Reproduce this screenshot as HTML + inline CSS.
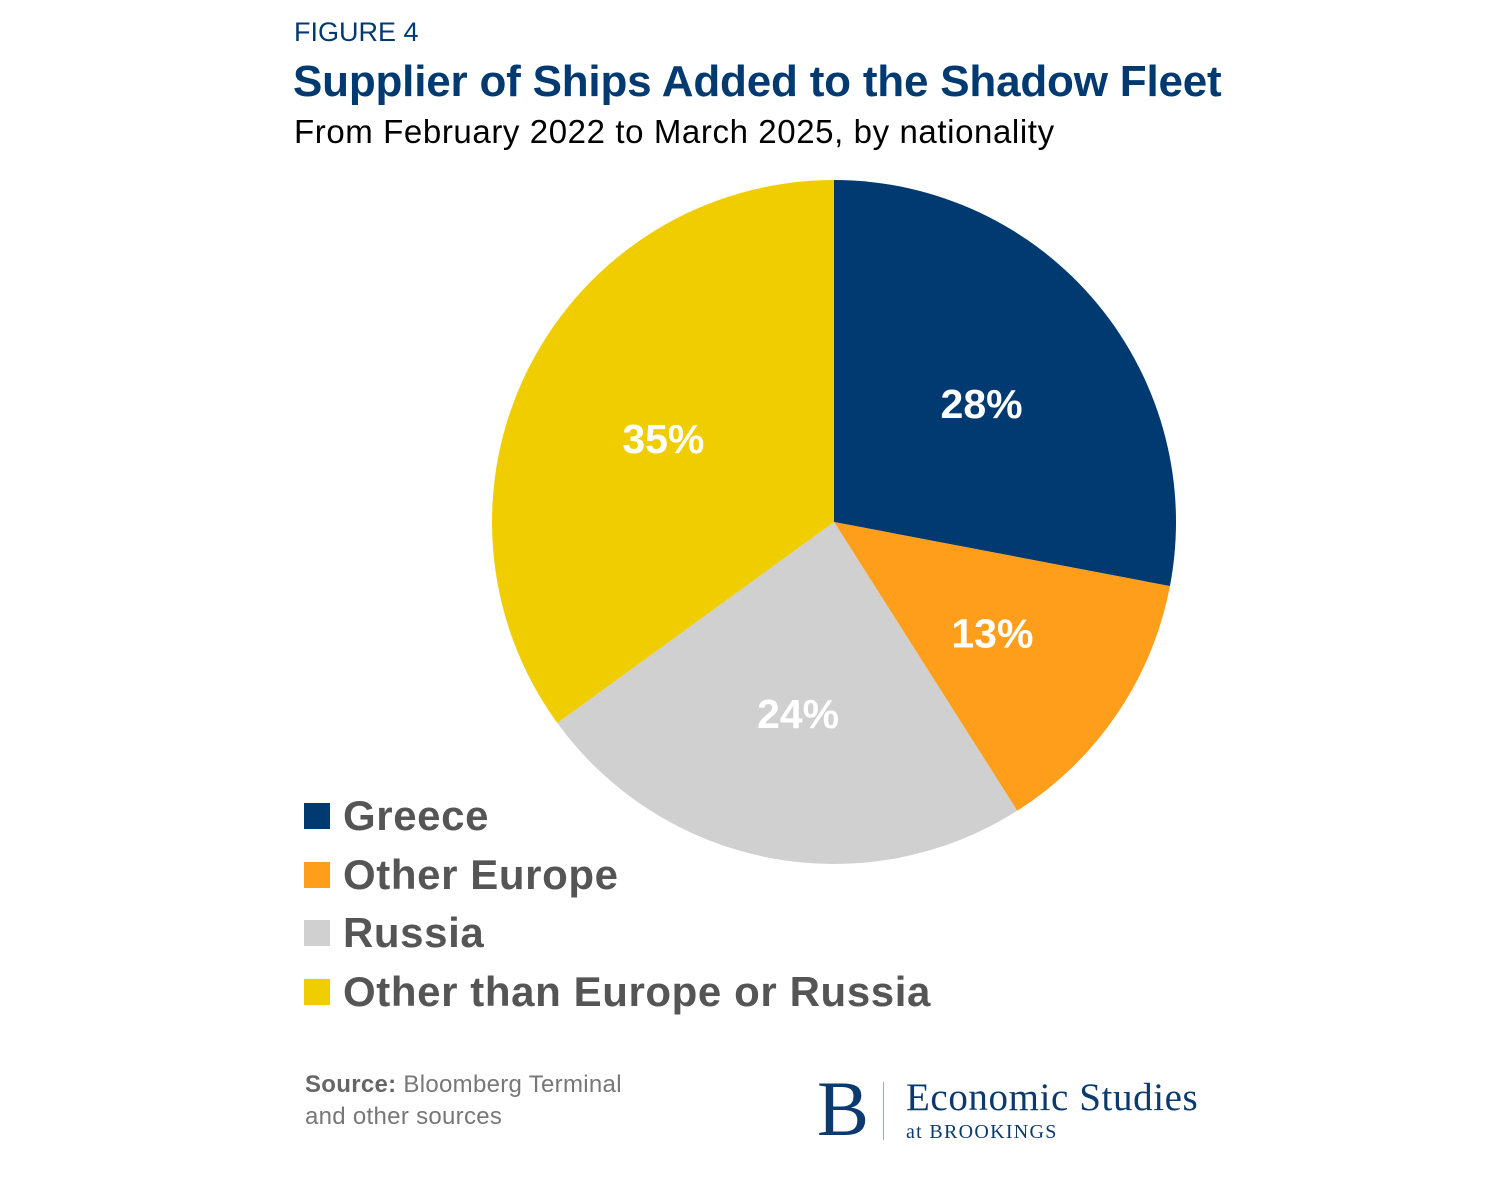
<!DOCTYPE html>
<html><head><meta charset="utf-8"><style>
body{margin:0;width:1500px;height:1200px;background:#fff;position:relative;overflow:hidden;font-family:"Liberation Sans",sans-serif}
.a{position:absolute;white-space:nowrap}
</style></head><body>
<div class="a" style="left:294px;top:17px;font-size:27px;color:#003a70">FIGURE 4</div>
<div class="a" style="left:293px;top:57px;font-size:44px;font-weight:bold;color:#003a70;letter-spacing:-0.2px">Supplier of Ships Added to the Shadow Fleet</div>
<div class="a" style="left:294px;top:113px;font-size:33px;color:#000;letter-spacing:0.6px">From February 2022 to March 2025, by nationality</div>
<svg class="a" style="left:0;top:0" width="1500" height="1200">
<g id="pie"></g>
</svg>
<div class="a" style="left:304px;top:787px">
<div id="leg"></div>
</div>
<div class="a" style="left:305px;top:1069px;font-size:24px;color:#777;line-height:32px;letter-spacing:0.3px"><b style="color:#666">Source:</b> Bloomberg Terminal<br>and other sources</div>
<div class="a" style="left:817px;top:1072px;font-family:'Liberation Serif',serif;color:#0d3a6e">
<span class="a" style="left:0;top:-8px;font-size:78px">B</span>
<span class="a" style="left:66px;top:10px;width:1px;height:58px;background:#9ab"></span>
<span class="a" style="left:89px;top:3px;font-size:39px;letter-spacing:0.6px">Economic Studies</span>
<span class="a" style="left:89px;top:49px;font-size:20px;letter-spacing:1.3px">at BROOKINGS</span>
</div>
<script>
const categories=["Greece","Other Europe","Russia","Other than Europe or Russia"];
const values=[28,13,24,35];
const colors=["#003a70","#ff9e1b","#d0d0d0","#f0cd00"];
const cx=834,cy=522,R=342;
const g=document.getElementById('pie');
const total=values.reduce((a,b)=>a+b,0);
const ns="http://www.w3.org/2000/svg";
let cum=0;
function pt(f,r){const a=f*2*Math.PI;return [cx+r*Math.sin(a),cy-r*Math.cos(a)];}
values.forEach((v,i)=>{
  const s=cum/total,e=(cum+v)/total;cum+=v;
  const [x1,y1]=pt(s,R),[x2,y2]=pt(e,R);
  const p=document.createElementNS(ns,'path');
  p.setAttribute('d',`M${cx},${cy}L${x1},${y1}A${R},${R} 0 ${e-s>0.5?1:0} 1 ${x2},${y2}Z`);
  p.setAttribute('fill',colors[i]);
  
  
  g.appendChild(p);
  const [lx,ly]=pt((s+e)/2,R*0.56);
  const t=document.createElementNS(ns,'text');
  t.setAttribute('x',lx);t.setAttribute('y',ly+18);
  t.setAttribute('text-anchor','middle');t.setAttribute('fill','#fff');
  t.setAttribute('font-size','41');t.setAttribute('font-weight','bold');
  t.setAttribute('font-family','Liberation Sans, sans-serif');
  t.textContent=Math.round(v/total*100)+'%';
  
  
  g.appendChild(t);
});
const leg=document.getElementById('leg');
categories.forEach((c,i)=>{
  const d=document.createElement('div');
  d.style.cssText='height:58.5px;display:flex;align-items:center;font-size:42px;font-weight:bold;color:#555;letter-spacing:0.6px';
  
  
  d.innerHTML=`<span style="display:inline-block;width:26px;height:26px;background:${colors[i]};margin-right:13px"></span>${c}`;
  leg.appendChild(d);
});
</script>
</body></html>
